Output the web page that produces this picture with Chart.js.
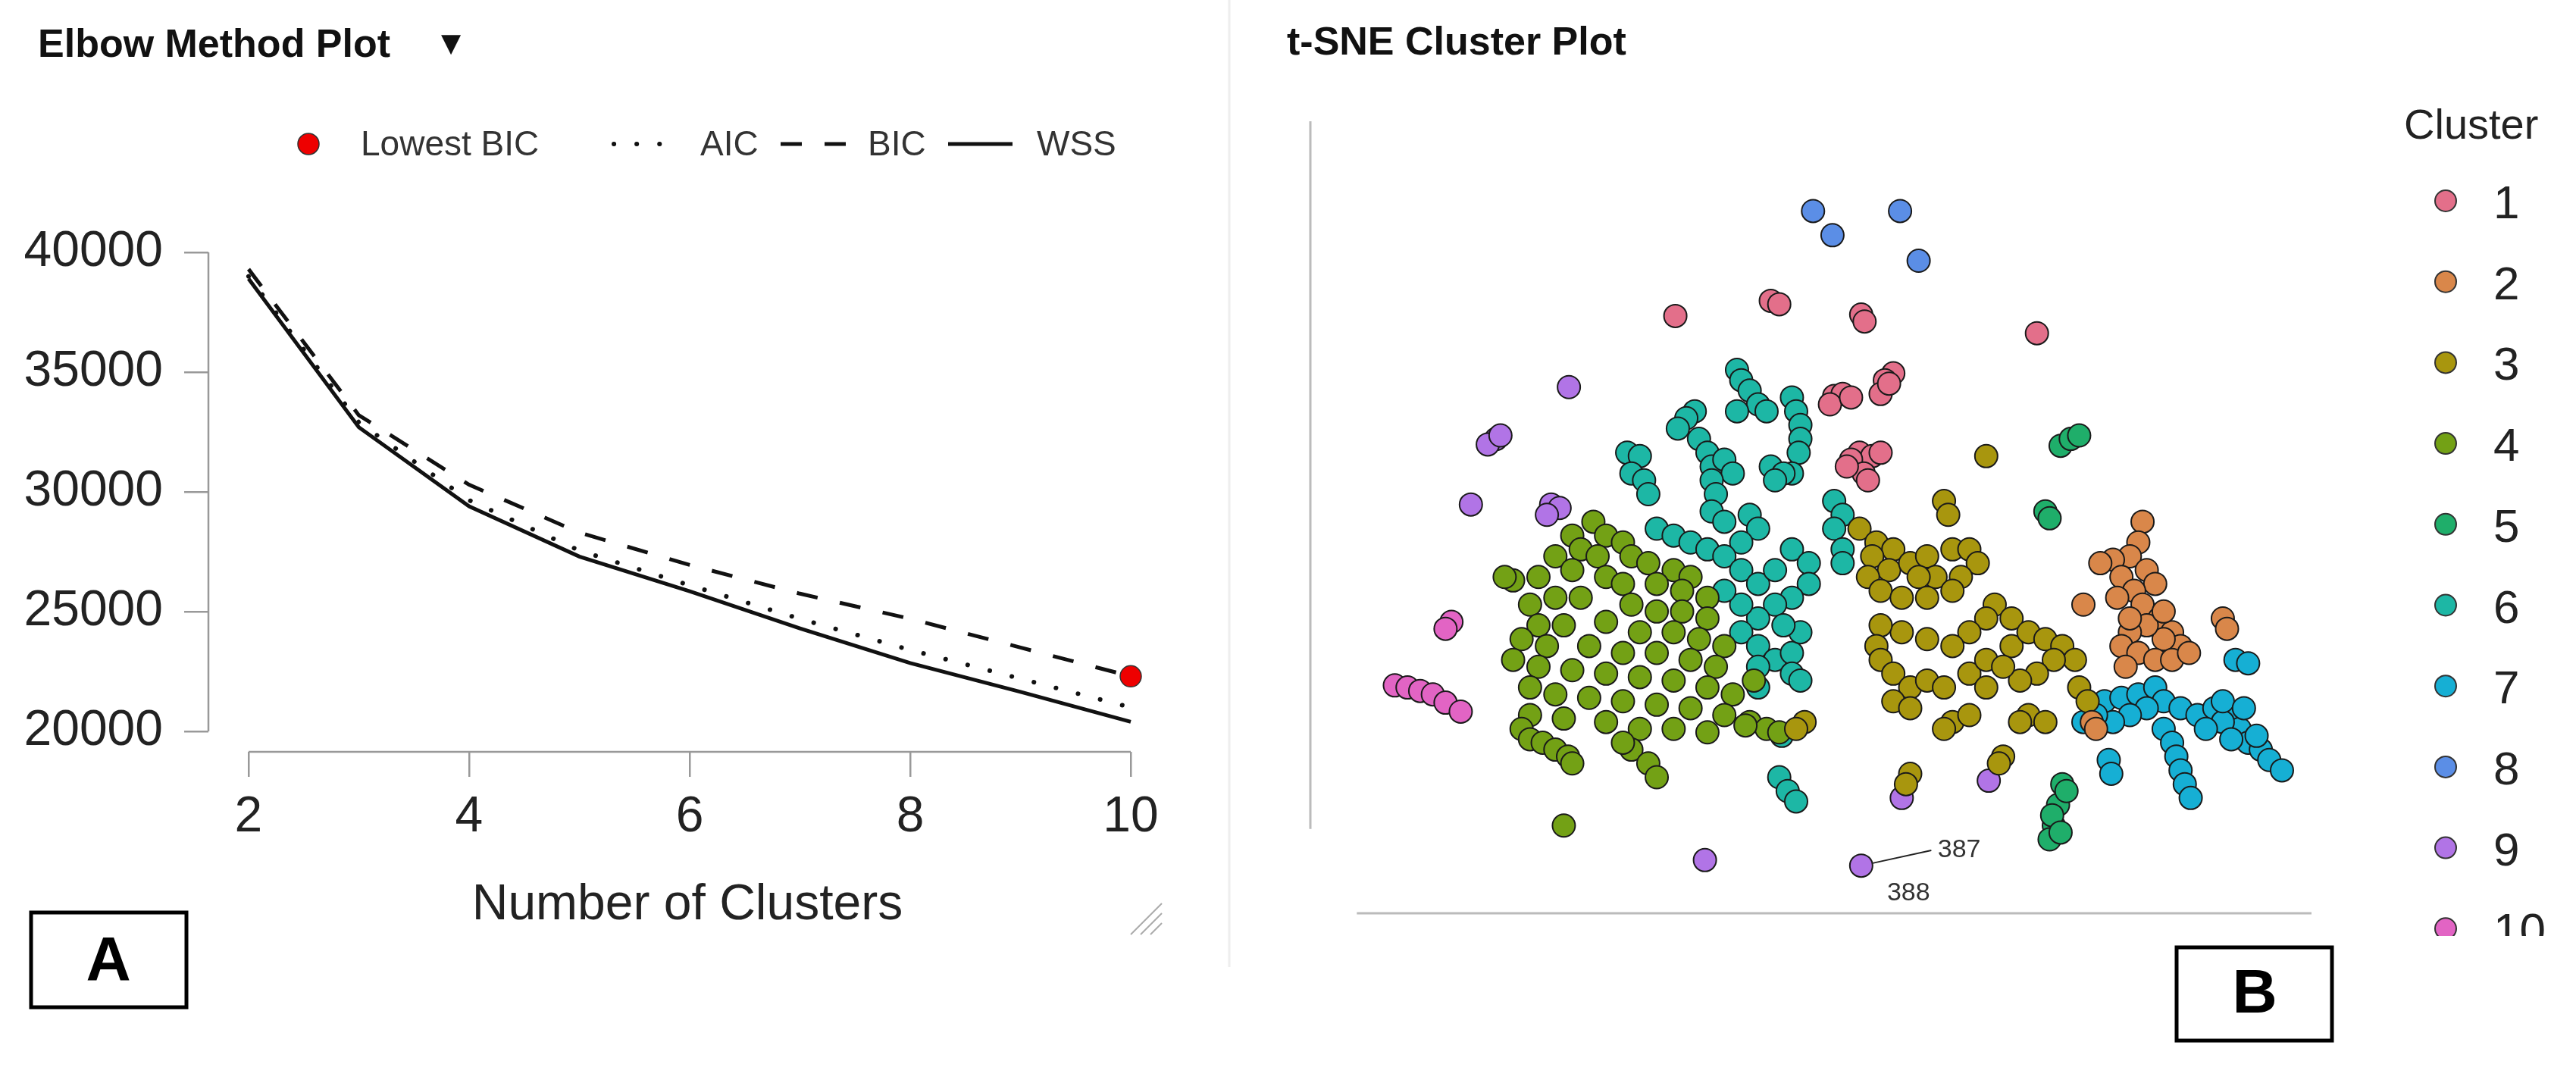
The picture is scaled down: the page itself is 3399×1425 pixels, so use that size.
<!DOCTYPE html>
<html><head><meta charset="utf-8">
<script src="https://cdn.jsdelivr.net/npm/chart.js@4.4.1/dist/chart.umd.min.js"></script>
<style>
html,body{margin:0;padding:0;background:#fff;width:3399px;height:1425px;overflow:hidden}
canvas{position:absolute;left:0;top:0}
</style></head><body>
<canvas id="c1" width="3399" height="1425"></canvas>
<canvas id="c2" width="3399" height="1425"></canvas>
<script>
// ---- Elbow data ----
const clusters = [2,3,4,5,6,7,8,9,10];
const wss = [38900,32700,29400,27300,25850,24300,22850,21650,20400];
const aic = [39000,32900,29650,27550,26100,24700,23400,22200,21000];
const bic = [39300,33200,30300,28300,26950,25750,24700,23500,22300];
const lowestBic = [{x:10,y:22300}];
const xTicks = [2,4,6,8,10];
const yTicks = [20000,25000,30000,35000,40000];

// ---- t-SNE data (x,y in plot units) ----
const c1 = [[502,462],[615,440],[625,445],[722,460],[726,470],[930,487],[760,545],[750,555],[745,575],[755,560],[690,578],[700,575],[685,590],[710,580],[720,660],[735,665],[710,670],[725,690],[745,660],[730,700],[705,680]];
const c2 = [[1055,760],[1050,790],[1040,810],[1020,815],[1005,820],[1030,840],[1060,830],[1070,850],[1045,860],[1025,870],[1055,880],[1075,900],[1090,920],[1100,940],[1080,930],[1060,910],[1040,920],[1030,940],[1050,950],[1070,960],[1090,960],[1110,950],[1035,970],[985,880],[1150,900],[1155,915],[995,1050],[1000,1060],[1080,890],[1040,900]];
const c3 = [[820,730],[825,750],[720,770],[740,790],[760,800],[735,810],[755,830],[780,820],[800,810],[830,800],[850,800],[860,820],[840,840],[810,840],[790,840],[730,840],[745,860],[770,870],[800,870],[830,860],[880,880],[900,900],[870,900],[850,920],[830,940],[800,930],[770,920],[745,910],[740,940],[745,960],[760,980],[780,1000],[800,990],[820,1000],[850,980],[870,960],[900,940],[920,920],[940,930],[960,940],[975,960],[950,960],[930,980],[910,990],[890,970],[870,1000],[920,1040],[940,1050],[910,1050],[830,1050],[850,1040],[820,1060],[760,1020],[780,1030],[870,665],[890,1100],[885,1110],[780,1125],[775,1140],[655,1050],[645,1060],[980,1000],[990,1020]];
const c4 = [[405,760],[380,780],[420,780],[440,790],[390,800],[360,810],[410,810],[450,810],[470,820],[500,830],[520,840],[380,830],[340,840],[310,845],[420,840],[440,850],[480,850],[510,860],[540,870],[360,870],[390,870],[330,880],[450,880],[480,890],[510,890],[540,900],[340,910],[370,910],[420,905],[460,920],[500,920],[530,930],[560,940],[320,930],[350,940],[400,940],[440,950],[480,950],[520,960],[550,970],[310,960],[340,970],[380,975],[420,980],[460,985],[500,990],[540,1000],[570,1010],[330,1000],[360,1010],[400,1015],[440,1020],[480,1025],[520,1030],[560,1040],[590,1050],[610,1060],[330,1040],[370,1045],[420,1050],[460,1060],[500,1060],[540,1065],[450,1090],[470,1110],[480,1130],[440,1080],[320,1060],[330,1075],[345,1080],[360,1090],[375,1100],[380,1110],[370,1200],[300,840],[595,990],[585,1055],[625,1065]];
const c5 = [[958,650],[970,640],[980,635],[940,745],[945,755],[960,1140],[955,1170],[950,1200],[945,1220],[965,1150],[948,1185],[958,1210]];
const c6 = [[575,540],[580,555],[590,570],[600,590],[610,600],[575,600],[525,600],[515,610],[505,625],[530,640],[540,660],[545,680],[560,670],[570,690],[545,700],[550,720],[545,745],[640,580],[645,600],[650,620],[650,640],[648,660],[640,690],[615,680],[630,690],[620,700],[445,660],[460,665],[450,690],[465,700],[470,720],[690,730],[700,750],[690,770],[700,800],[700,820],[480,770],[500,780],[520,790],[540,800],[560,760],[590,750],[600,770],[580,790],[560,810],[580,830],[600,850],[620,830],[640,800],[660,820],[660,850],[640,870],[620,880],[600,900],[580,880],[560,860],[580,920],[600,940],[620,960],[640,950],[650,920],[630,910],[600,970],[640,980],[625,1130],[635,1150],[645,1165],[628,1070],[600,1000],[650,990]];
const c7 = [[985,1050],[1010,1020],[1030,1015],[1050,1010],[1070,1000],[1080,1020],[1060,1030],[1040,1040],[1020,1050],[1100,1030],[1120,1040],[1140,1030],[1160,1040],[1170,1060],[1180,1080],[1195,1090],[1205,1105],[1220,1120],[1190,1070],[1150,1050],[1130,1060],[1160,1075],[1080,1060],[1090,1080],[1095,1100],[1100,1120],[1105,1140],[1112,1160],[1015,1105],[1018,1125],[1165,960],[1180,965],[1150,1020],[1175,1030],[1000,1040]];
const c8 = [[665,310],[688,345],[768,310],[790,382]];
const c9 = [[376,565],[290,640],[280,648],[295,635],[260,735],[355,735],[365,740],[350,750],[873,1135],[770,1160],[537,1250],[722,1258]];
const c10 = [[237,905],[230,915],[170,997],[185,1000],[200,1005],[215,1010],[230,1022],[248,1035]];
const clusterLabels = ['1','2','3','4','5','6','7','8','9','10'];
const clusterColors = ['#E36F8A','#D9874A','#A8960E','#73A115','#1FAE6A','#1DB7A5','#16AFD4','#5B8EE6','#B174E6','#E264C4'];
const clusterPoints = [c1,c2,c3,c4,c5,c6,c7,c8,c9,c10];
const annotPoint = [722,1258];

const F = '"Liberation Sans", Arial, sans-serif';

// ---------- Left chart ----------
const leftDeco = {
  id:'leftDeco',
  afterDraw(ch){
    const ctx = ch.ctx, xs = ch.scales.x, ys = ch.scales.y, a = ch.chartArea;
    ctx.save();
    ctx.strokeStyle='#999'; ctx.lineWidth=2.5;
    ctx.beginPath();
    ctx.moveTo(a.left, ys.getPixelForValue(yTicks[yTicks.length-1]));
    ctx.lineTo(a.left, ys.getPixelForValue(yTicks[0]));
    ctx.moveTo(xs.getPixelForValue(xTicks[0]), a.bottom);
    ctx.lineTo(xs.getPixelForValue(xTicks[xTicks.length-1]), a.bottom);
    ctx.stroke();
    ctx.fillStyle='#111'; ctx.font='bold 52px '+F; ctx.textBaseline='alphabetic'; ctx.textAlign='left';
    ctx.fillText('Elbow Method Plot',50,75);
    ctx.font='34px "DejaVu Sans"'; ctx.fillText('▼',582,68);
    ctx.fillStyle='#ee0000'; ctx.strokeStyle='#333'; ctx.lineWidth=1.5;
    ctx.beginPath(); ctx.arc(407,190,14,0,Math.PI*2); ctx.fill(); ctx.stroke();
    ctx.fillStyle='#333'; ctx.font='46px '+F; ctx.textBaseline='middle';
    ctx.fillText('Lowest BIC',476,192); ctx.fillText('AIC',924,192); ctx.fillText('BIC',1145,192); ctx.fillText('WSS',1368,192);
    ctx.strokeStyle='#111'; ctx.lineCap='round';
    ctx.lineWidth=6; ctx.setLineDash([0.1,30]); ctx.beginPath(); ctx.moveTo(810,190); ctx.lineTo(880,190); ctx.stroke();
    ctx.lineCap='butt'; ctx.lineWidth=5; ctx.setLineDash([28,30]); ctx.beginPath(); ctx.moveTo(1030,190); ctx.lineTo(1116,190); ctx.stroke();
    ctx.setLineDash([]); ctx.beginPath(); ctx.moveTo(1251,190); ctx.lineTo(1336,190); ctx.stroke();
    ctx.fillStyle='#222'; ctx.font='66px '+F; ctx.textAlign='center'; ctx.textBaseline='alphabetic';
    ctx.fillText('Number of Clusters',907,1213);
    ctx.strokeStyle='#000'; ctx.lineWidth=5; ctx.strokeRect(41,1204,205,125);
    ctx.fillStyle='#000'; ctx.font='bold 82px '+F; ctx.textBaseline='middle'; ctx.fillText('A',143,1270);
    ctx.strokeStyle='#aaa'; ctx.lineWidth=2;
    [[1492,1233,1533,1192],[1505,1233,1533,1205],[1518,1233,1533,1218]].forEach(l=>{ctx.beginPath();ctx.moveTo(l[0],l[1]);ctx.lineTo(l[2],l[3]);ctx.stroke();});
    ctx.strokeStyle='#eeeeee'; ctx.lineWidth=3; ctx.beginPath(); ctx.moveTo(1622,0); ctx.lineTo(1622,1276); ctx.stroke();
    ctx.restore();
  }
};
const tickFont = {family:'"Liberation Sans", Arial, sans-serif', size:66};
new Chart(document.getElementById('c1'),{
  type:'line',
  data:{labels:clusters, datasets:[
    {label:'WSS', data:clusters.map((c,i)=>({x:c,y:wss[i]})), borderColor:'#111', borderWidth:5, pointRadius:0, tension:0},
    {label:'AIC', data:clusters.map((c,i)=>({x:c,y:aic[i]})), borderColor:'#111', borderWidth:6, borderDash:[0.1,30], borderCapStyle:'round', pointRadius:0, tension:0},
    {label:'BIC', data:clusters.map((c,i)=>({x:c,y:bic[i]})), borderColor:'#111', borderWidth:5, borderDash:[28,30], pointRadius:0, tension:0},
    {label:'Lowest BIC', type:'scatter', data:lowestBic, backgroundColor:'#ee0000', borderColor:'#333', borderWidth:1.5, pointRadius:14}
  ]},
  options:{
    responsive:false, animation:false, devicePixelRatio:1,
    layout:{padding:{left:0,top:333,right:1907,bottom:0}},
    plugins:{legend:{display:false},tooltip:{enabled:false}},
    datasets:{line:{clip:false},scatter:{clip:false}},
    scales:{
      x:{type:'linear', min:1.636, max:10,
        afterBuildTicks:s=>{s.ticks=xTicks.map(v=>({value:v}));},
        afterFit:s=>{s.height=433;},
        border:{display:false},
        grid:{drawOnChartArea:false, drawTicks:true, tickLength:33, color:'#999', lineWidth:2.5},
        ticks:{font:tickFont, color:'#222', padding:14, maxRotation:0, callback:v=>String(v)}},
      y:{type:'linear', min:19146, max:40000,
        afterBuildTicks:s=>{s.ticks=yTicks.map(v=>({value:v}));},
        afterFit:s=>{s.width=275;},
        border:{display:false},
        grid:{drawOnChartArea:false, drawTicks:true, tickLength:32, color:'#999', lineWidth:2.5},
        ticks:{font:tickFont, color:'#222', padding:28, callback:v=>String(v)}}
    }
  },
  plugins:[leftDeco]
});

// ---------- Right chart ----------
const rightDeco = {
  id:'rightDeco',
  afterDraw(ch){
    const ctx=ch.ctx, xs=ch.scales.x, ys=ch.scales.y, a=ch.chartArea;
    ctx.save();
    ctx.strokeStyle='#bbb'; ctx.lineWidth=3;
    ctx.beginPath();
    ctx.moveTo(a.left, ys.getPixelForValue(180)); ctx.lineTo(a.left, ys.getPixelForValue(1205));
    ctx.moveTo(xs.getPixelForValue(125), a.bottom); ctx.lineTo(xs.getPixelForValue(1255), a.bottom);
    ctx.stroke();
    const px=xs.getPixelForValue(annotPoint[0]), py=ys.getPixelForValue(annotPoint[1]);
    ctx.strokeStyle='#222'; ctx.lineWidth=2;
    ctx.beginPath(); ctx.moveTo(px+14,py-3); ctx.lineTo(xs.getPixelForValue(805), ys.getPixelForValue(1236)); ctx.stroke();
    ctx.fillStyle='#333'; ctx.font='34px '+F; ctx.textBaseline='middle'; ctx.textAlign='center';
    ctx.fillText('387', xs.getPixelForValue(838), ys.getPixelForValue(1236));
    ctx.fillText('388', xs.getPixelForValue(778), ys.getPixelForValue(1298));
    ctx.fillStyle='#111'; ctx.font='bold 52px '+F; ctx.textAlign='left'; ctx.textBaseline='alphabetic';
    ctx.fillText('t-SNE Cluster Plot',1698,72);
    ctx.fillStyle='#222'; ctx.font='56px '+F; ctx.fillText('Cluster',3172,183);
    ctx.beginPath(); ctx.rect(3150,200,249,1035); ctx.clip();
    clusterLabels.forEach((l,i)=>{
      const y=265+i*106.7;
      ctx.fillStyle=clusterColors[i]; ctx.strokeStyle='#333'; ctx.lineWidth=2;
      ctx.beginPath(); ctx.arc(3227,y,14,0,Math.PI*2); ctx.fill(); ctx.stroke();
      ctx.fillStyle='#222'; ctx.font='62px '+F; ctx.textBaseline='middle'; ctx.fillText(l,3290,y+6);
    });
    ctx.restore();
    ctx.save();
    ctx.strokeStyle='#000'; ctx.lineWidth=5; ctx.strokeRect(2872,1250,205,123);
    ctx.fillStyle='#000'; ctx.font='bold 82px '+F; ctx.textAlign='center'; ctx.textBaseline='middle'; ctx.fillText('B',2975,1313);
    ctx.restore();
  }
};
new Chart(document.getElementById('c2'),{
  type:'scatter',
  data:{datasets:clusterPoints.map((pts,i)=>({
    label:clusterLabels[i], data:pts.map(p=>({x:p[0],y:p[1]})),
    backgroundColor:clusterColors[i], borderColor:'#1a1a1a', borderWidth:2, pointRadius:15, clip:false
  }))},
  options:{
    responsive:false, animation:false, devicePixelRatio:1,
    layout:{padding:{left:1729,top:160,right:349,bottom:220}},
    plugins:{legend:{display:false},tooltip:{enabled:false}},
    scales:{
      x:{type:'linear',min:70,max:1255,display:false},
      y:{type:'linear',min:180,max:1327,reverse:true,display:false}
    }
  },
  plugins:[rightDeco]
});
</script>
</body></html>
